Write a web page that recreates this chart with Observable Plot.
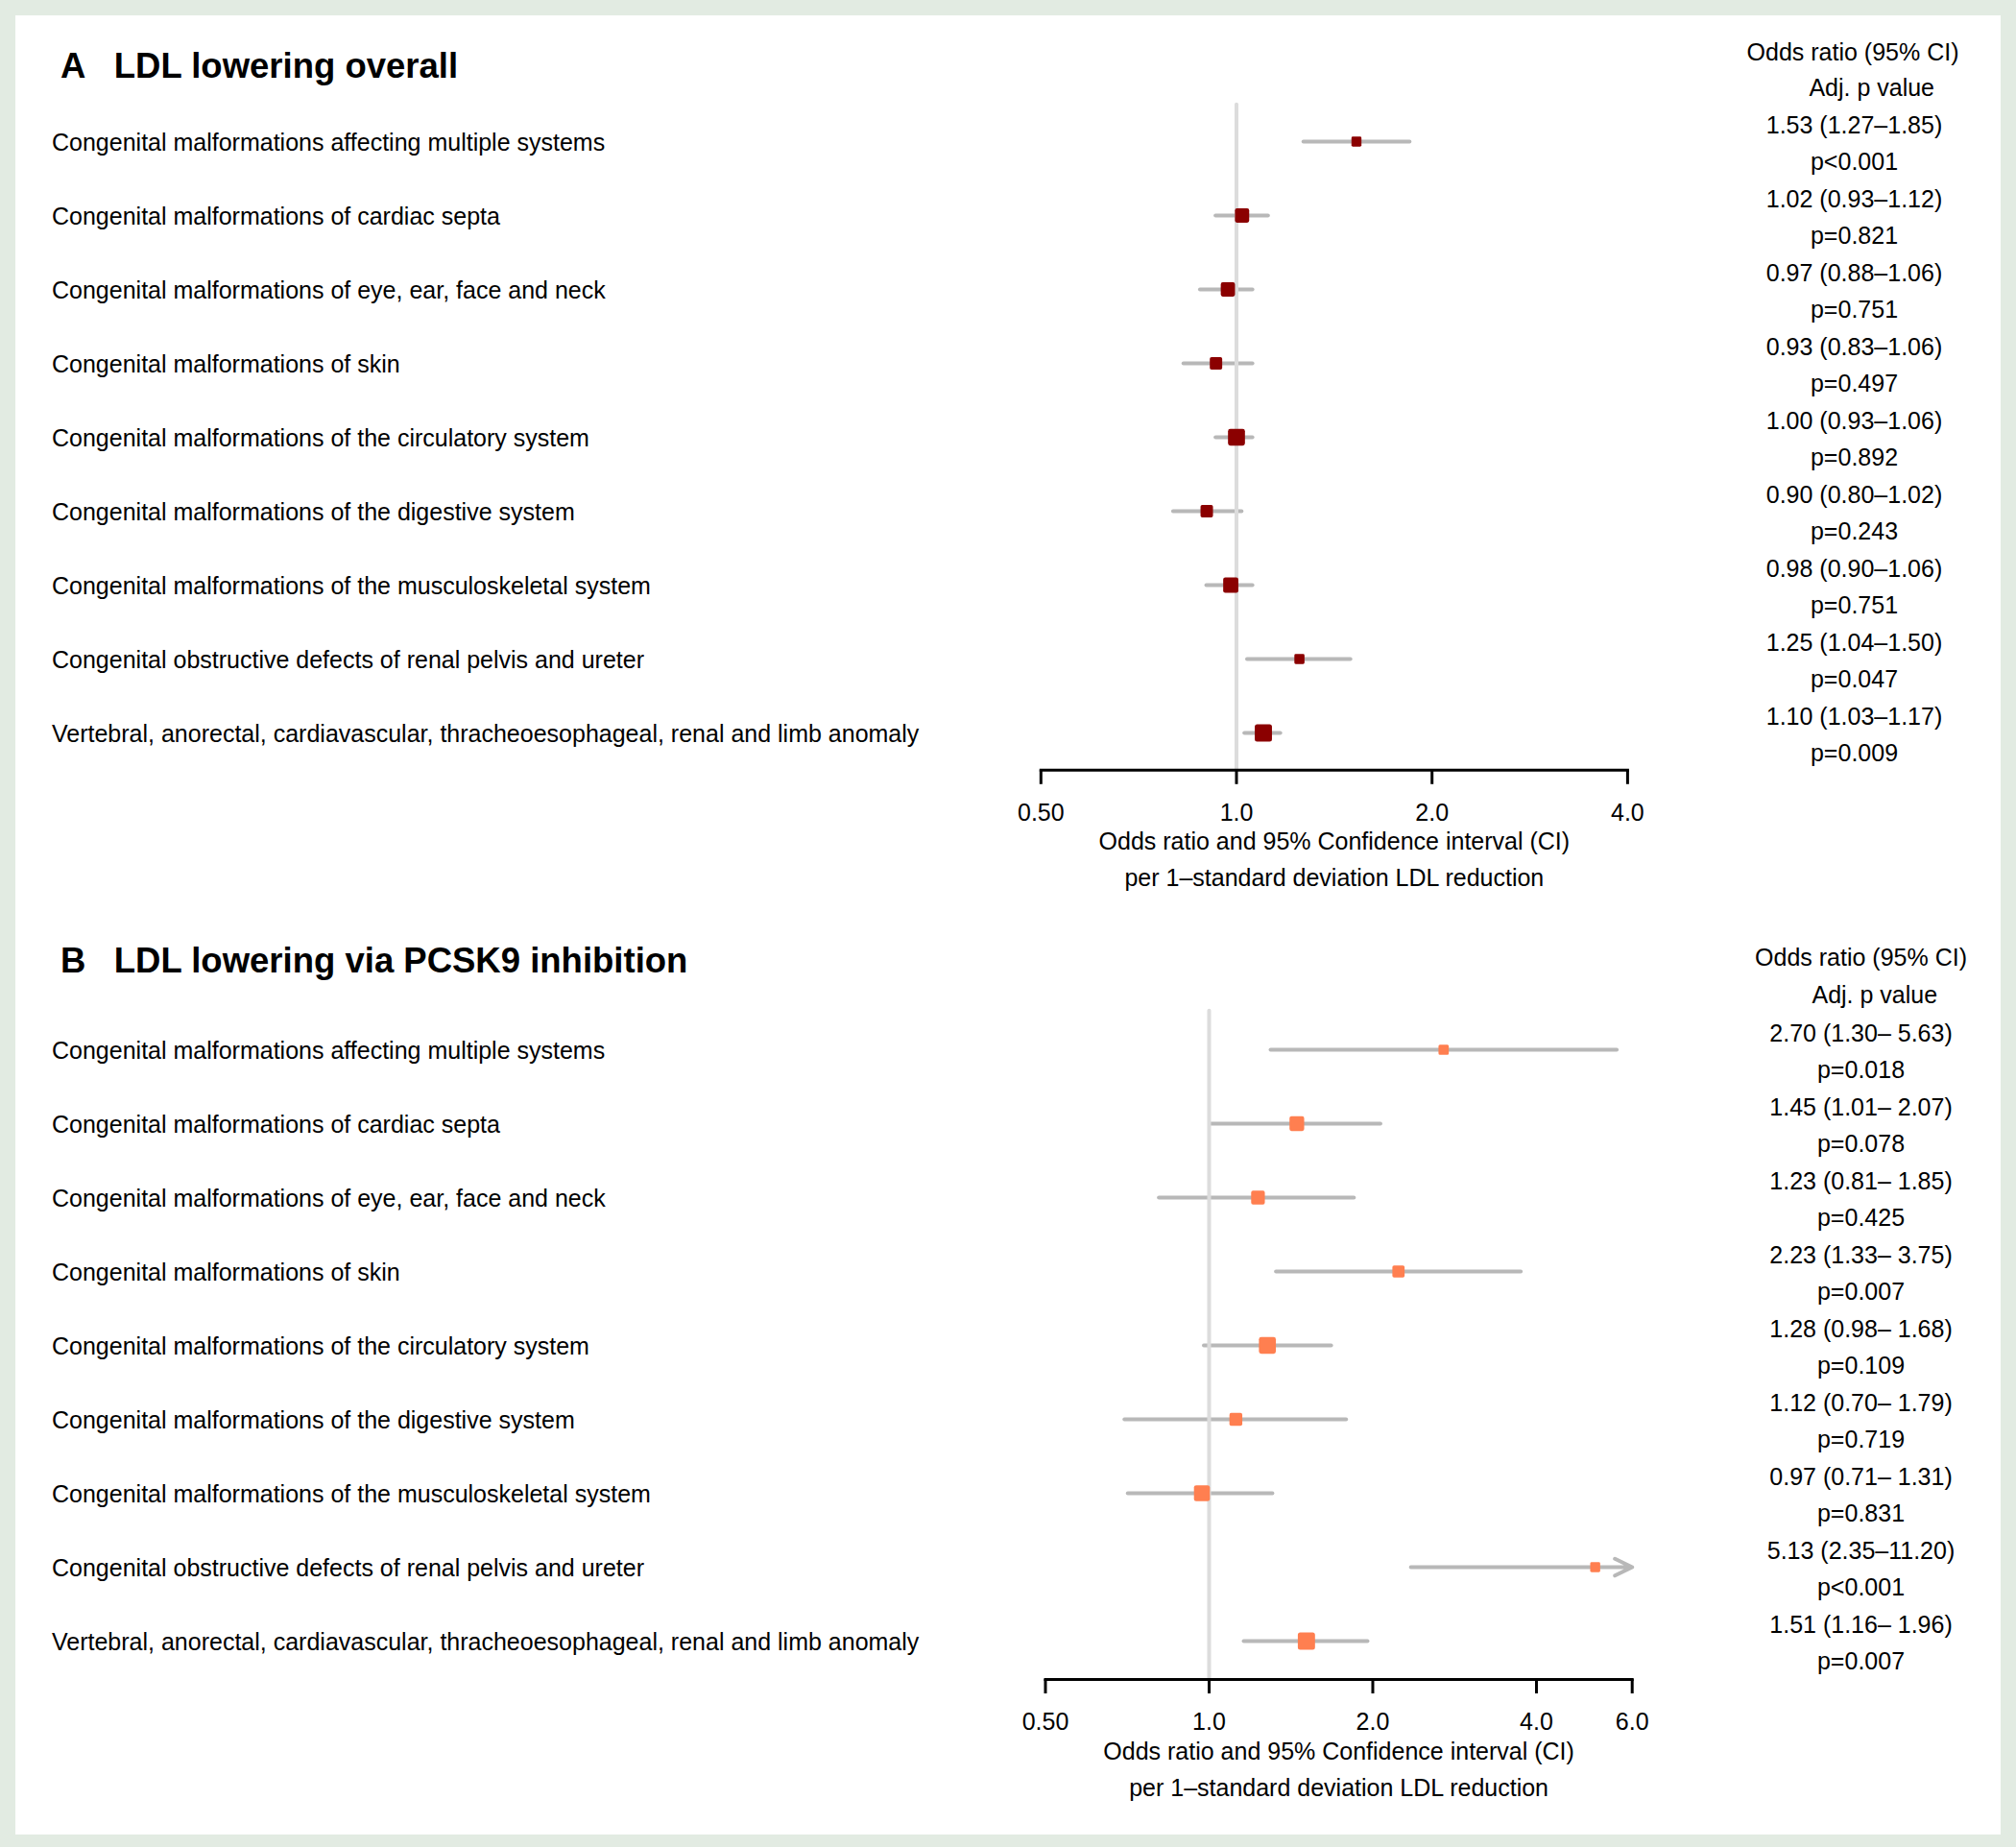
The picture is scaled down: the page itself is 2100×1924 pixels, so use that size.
<!DOCTYPE html>
<html><head><meta charset="utf-8">
<script src="https://cdn.jsdelivr.net/npm/d3@7"></script>
<script src="https://cdn.jsdelivr.net/npm/@observablehq/plot@0.6"></script>
<style>
html,body{margin:0;padding:0;background:#e2ebe2;}
#page{position:relative;width:2100px;height:1924px;overflow:hidden;background:#e2ebe2;}
#box{position:absolute;left:16px;top:16px;width:2068px;height:1895px;background:#ffffff;}
#a,#b{position:absolute;left:0;}
#a{top:0;} #b{top:950px;}
</style></head><body>
<div id="page"><div id="box"></div><div id="a"></div><div id="b"></div></div>
<script>
// ---------- data ----------
const categories = [
  "Congenital malformations affecting multiple systems",
  "Congenital malformations of cardiac septa",
  "Congenital malformations of eye, ear, face and neck",
  "Congenital malformations of skin",
  "Congenital malformations of the circulatory system",
  "Congenital malformations of the digestive system",
  "Congenital malformations of the musculoskeletal system",
  "Congenital obstructive defects of renal pelvis and ureter",
  "Vertebral, anorectal, cardiavascular, thracheoesophageal, renal and limb anomaly"
];
const orA = [1.53, 1.02, 0.97, 0.93, 1.00, 0.90, 0.98, 1.25, 1.10];
const loA = [1.27, 0.93, 0.88, 0.83, 0.93, 0.80, 0.90, 1.04, 1.03];
const hiA = [1.85, 1.12, 1.06, 1.06, 1.06, 1.02, 1.06, 1.50, 1.17];
const pA = ["p<0.001", "p=0.821", "p=0.751", "p=0.497", "p=0.892", "p=0.243", "p=0.751", "p=0.047", "p=0.009"];

const orB = [2.70, 1.45, 1.23, 2.23, 1.28, 1.12, 0.97, 5.13, 1.51];
const loB = [1.30, 1.01, 0.81, 1.33, 0.98, 0.70, 0.71, 2.35, 1.16];
const hiB = [5.63, 2.07, 1.85, 3.75, 1.68, 1.79, 1.31, 11.20, 1.96];
const pB = ["p=0.018", "p=0.078", "p=0.425", "p=0.007", "p=0.109", "p=0.719", "p=0.831", "p<0.001", "p=0.007"];

const ticksA = [0.5, 1, 2, 4];
const tickLabelsA = ["0.50", "1.0", "2.0", "4.0"];
const ticksB = [0.5, 1, 2, 4, 6];
const tickLabelsB = ["0.50", "1.0", "2.0", "4.0", "6.0"];

const letterA = "A", titleA = "LDL lowering overall";
const letterB = "B", titleB = "LDL lowering via PCSK9 inhibition";
const headerOR = "Odds ratio (95% CI)";
const headerP = "Adj. p value";
const axisTitle1 = "Odds ratio and 95% Confidence interval (CI)";
const axisTitle2 = "per 1\u2013standard deviation LDL reduction";

// ---------- drawing ----------
const FONT = "'Liberation Sans', Arial, Helvetica, sans-serif";
const roundSquare = {
  draw(context, size) {
    const s = Math.sqrt(size), h = s / 2, r = Math.min(s * 0.14, 2.5);
    context.moveTo(-h + r, -h);
    context.lineTo(h - r, -h);
    context.arcTo(h, -h, h, -h + r, r);
    context.lineTo(h, h - r);
    context.arcTo(h, h, h - r, h, r);
    context.lineTo(-h + r, h);
    context.arcTo(-h, h, -h, h - r, r);
    context.lineTo(-h, -h + r);
    context.arcTo(-h, -h, -h + r, -h, r);
    context.closePath();
  }
};

function drawPanel(target, cfg) {
  const W = 2100;
  const [xmin, xmax] = cfg.domain;
  const rows = categories.map((c, i) => ({label: c, or: cfg.or[i], lo: cfg.lo[i], hi: cfg.hi[i], p: cfg.p[i]}));
  const w = d3.max(rows, d => d.hi.toFixed(2).length);
  for (const d of rows) {
    d.prec = 1 / Math.log(d.hi / d.lo);
    d.hiShown = Math.min(d.hi, xmax);
    d.ci = `${d.or.toFixed(2)} (${d.lo.toFixed(2)}\u2013${d.hi.toFixed(2).padStart(w, " ")})`;
  }
  const mL = cfg.marginLeft, mR = cfg.marginRight, mT = cfg.marginTop, mB = cfg.marginBottom;
  const one = (s, o) => Plot.text([s], {text: d => d, fill: "black", lineAnchor: "middle", fontSize: 25, ...o});
  const chart = Plot.plot({
    width: W, height: cfg.height,
    marginLeft: mL, marginRight: mR, marginTop: mT, marginBottom: mB,
    style: {fontFamily: FONT, fontSize: "25px", background: "transparent", color: "black", overflow: "visible"},
    x: {type: "log", domain: cfg.domain, axis: null},
    y: {type: "point", domain: categories, padding: 0.5, axis: null},
    r: {type: "sqrt", domain: [0, d3.max(rows, d => d.prec)], range: [0, 10.1]},
    marks: [
      Plot.ruleY(rows.filter(d => d.hi <= xmax), {y: "label", x1: "lo", x2: "hi", stroke: "#b8b8b8", strokeWidth: 4, strokeLinecap: "round"}),
      Plot.arrow(rows.filter(d => d.hi > xmax), {y1: "label", y2: "label", x1: "lo", x2: "hiShown", stroke: "#b8b8b8", strokeWidth: 4, headLength: 7.5, headAngle: 52, strokeLinecap: "round", strokeLinejoin: "round"}),
      Plot.ruleX([1], {stroke: "#dcdcdc", strokeWidth: 4, strokeLinecap: "round"}),
      Plot.dot(rows, {x: "or", y: "label", r: "prec", symbol: roundSquare, fill: cfg.color, stroke: null}),
      Plot.frame({anchor: "bottom", stroke: "black", strokeWidth: 3}),
      Plot.axisX({ticks: cfg.ticks, tickFormat: d => cfg.tickLabels[cfg.ticks.indexOf(d)], tickSize: 15, tickPadding: 20, fontSize: 25, stroke: "black", strokeWidth: 3, fill: "black", label: null}),
      // row labels
      Plot.text(rows, {y: "label", text: "label", frameAnchor: "left", textAnchor: "start", lineAnchor: "middle", dx: 53.5 - mL, dy: 1, fontSize: 25, fill: "black"}),
      // odds ratio text and p values
      Plot.text(rows, {y: "label", text: "ci", frameAnchor: "right", textAnchor: "middle", lineAnchor: "middle", dx: cfg.colX - (W - mR), dy: -17, fontSize: 25, fill: "black"}),
      Plot.text(rows, {y: "label", text: "p", frameAnchor: "right", textAnchor: "middle", lineAnchor: "middle", dx: cfg.colX - (W - mR), dy: 21, fontSize: 25, fill: "black"}),
      // headers
      one(headerOR, {frameAnchor: "top-left", textAnchor: "middle", dx: cfg.hdrOrX - mL, dy: cfg.hdrOrY - mT}),
      one(headerP, {frameAnchor: "top-left", textAnchor: "middle", dx: cfg.hdrPX - mL, dy: cfg.hdrPY - mT}),
      // titles
      one(cfg.letter, {frameAnchor: "top-left", textAnchor: "start", dx: 62.5 - mL, dy: cfg.titleY - mT, fontSize: 36.5, fontWeight: "bold"}),
      one(cfg.title, {frameAnchor: "top-left", textAnchor: "start", dx: 118.3 - mL, dy: cfg.titleY - mT, fontSize: 36.5, fontWeight: "bold"}),
      // axis titles
      one(axisTitle1, {frameAnchor: "bottom", textAnchor: "middle", dy: 75}),
      one(axisTitle2, {frameAnchor: "bottom", textAnchor: "middle", dy: 113})
    ]
  });
  document.getElementById(target).appendChild(chart);
}

drawPanel("a", {
  letter: letterA, title: titleA, or: orA, lo: loA, hi: hiA, p: pA,
  ticks: ticksA, tickLabels: tickLabelsA, domain: [0.5, 4], color: "#8b0000",
  height: 950, marginLeft: 1083.8, marginRight: 405.1, marginTop: 108.8, marginBottom: 148.2,
  colX: 1931, hdrOrX: 1929.5, hdrOrY: 54.3, hdrPX: 1949.2, hdrPY: 91.7, titleY: 69
});
drawPanel("b", {
  letter: letterB, title: titleB, or: orB, lo: loB, hi: hiB, p: pB,
  ticks: ticksB, tickLabels: tickLabelsB, domain: [0.5, 6], color: "#ff7f50",
  height: 974, marginLeft: 1088.5, marginRight: 400.3, marginTop: 102.7, marginBottom: 175,
  colX: 1938, hdrOrX: 1938, hdrOrY: 47.7, hdrPX: 1952.3, hdrPY: 86, titleY: 50.5
});
</script>
</body></html>
